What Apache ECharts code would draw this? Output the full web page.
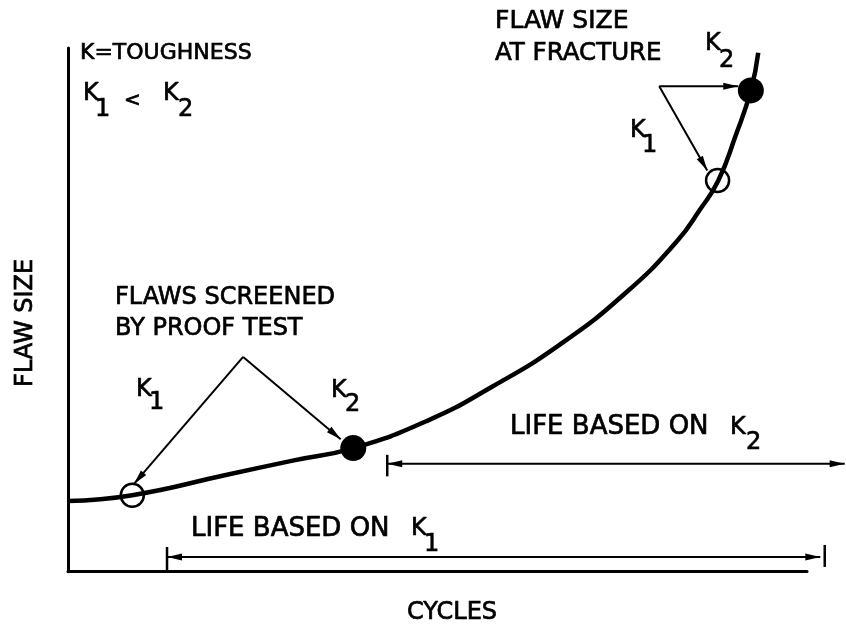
<!DOCTYPE html>
<html>
<head>
<meta charset="utf-8">
<script src="https://cdn.jsdelivr.net/npm/echarts@6/dist/echarts.min.js"></script>
<style>
  html, body { margin: 0; padding: 0; background: #fff; }
  #chart { width: 846px; height: 630px; }
</style>
</head>
<body>
<div id="chart"></div>
<script>
// Crack growth curve: flaw size against load cycles (relative units, 0-100)
const growthCycles = [0, 8.7, 21.5, 30.4, 38.6, 48.6, 57.5, 66.6, 75.6, 82.4, 85.5, 88.0, 90.3, 92.4, 93.4];
const growthSize   = [13.5, 14.6, 18.5, 21.2, 23.6, 28.8, 35.4, 43.4, 53.4, 63.1, 69.1, 74.7, 83.1, 91.9, 99.1];

// Flaw sizes on the curve: open marks for toughness K1, filled marks for K2
const k1Marks = [[8.7, 14.6], [87.9, 74.7]];
const k2Marks = [[38.6, 23.6], [92.4, 91.9]];

// Pointers from the notes to the marks
const proofApex    = [23.7, 41.0];
const proofTips    = [[8.9, 16.7], [36.9, 25.3]];
const fractureApex = [80.0, 92.7];
const fractureTips = [[90.7, 92.7], [86.5, 76.6]];

// Remaining life spans (start cycle, end cycle, drawn level)
const lifeK2Span  = [43.2, 105.1];
const lifeK2Level = 20.6;
const lifeK2Tick  = [18.2, 22.3];
const lifeK1Span  = [13.4, 101.8];
const lifeK1Level = 2.8;
const lifeK1Tick  = [0, 4.7];
const lifeK1End   = 102.4;
const lifeK1EndTick = [0.9, 5.1];

const xName = 'CYCLES';
const yName = 'FLAW SIZE';

const FONT = '"DejaVu Sans", sans-serif';

const curveData = growthCycles.map((c, i) => [c, growthSize[i]]);

// Segment rows: x1, y1, x2, y2, head at start, head at end, line width
const segments = [
  [proofApex[0], proofApex[1], proofTips[0][0], proofTips[0][1], 0, 1, 2],
  [proofApex[0], proofApex[1], proofTips[1][0], proofTips[1][1], 0, 1, 2],
  [fractureApex[0], fractureApex[1], fractureTips[0][0], fractureTips[0][1], 0, 1, 2],
  [fractureApex[0], fractureApex[1], fractureTips[1][0], fractureTips[1][1], 0, 1, 2],
  [lifeK2Span[0], lifeK2Level, lifeK2Span[1], lifeK2Level, 1, 1, 2],
  [lifeK1Span[0], lifeK1Level, lifeK1Span[1], lifeK1Level, 1, 1, 2],
  [lifeK2Span[0], lifeK2Tick[0], lifeK2Span[0], lifeK2Tick[1], 0, 0, 2.5],
  [lifeK1Span[0], lifeK1Tick[0], lifeK1Span[0], lifeK1Tick[1], 0, 0, 2.5],
  [lifeK1End, lifeK1EndTick[0], lifeK1End, lifeK1EndTick[1], 0, 0, 2.5]
];

function arrowHead(tip, from) {
  const dx = tip[0] - from[0], dy = tip[1] - from[1];
  const len = Math.hypot(dx, dy) || 1;
  const ux = dx / len, uy = dy / len;
  const headLen = 15, halfW = 3.5;
  const bx = tip[0] - ux * headLen, by = tip[1] - uy * headLen;
  return {
    type: 'polygon',
    shape: { points: [[tip[0], tip[1]], [bx - uy * halfW, by + ux * halfW], [bx + uy * halfW, by - ux * halfW]] },
    style: { fill: '#000' }
  };
}

function renderSegment(params, api) {
  const a = api.coord([api.value(0), api.value(1)]);
  const b = api.coord([api.value(2), api.value(3)]);
  const children = [{
    type: 'line',
    shape: { x1: a[0], y1: a[1], x2: b[0], y2: b[1] },
    style: { stroke: '#000', lineWidth: api.value(6) }
  }];
  if (api.value(4)) children.push(arrowHead(a, b));
  if (api.value(5)) children.push(arrowHead(b, a));
  return { type: 'group', children: children };
}

function txt(text, x, y, size) {
  return {
    type: 'text', x: x, y: y, z: 10,
    style: {
      text: text, fill: '#000', stroke: '#000', lineWidth: 0.7,
      fontFamily: FONT, fontSize: size || 24, verticalAlign: 'middle'
    }
  };
}
function kSub(x, y, sub, dx, dy) {
  return [txt('K', x, y), txt(sub, x + (dx || 14), y + (dy || 16))];
}

const chart = echarts.init(document.getElementById('chart'), null, { renderer: 'canvas' });

const axisCommon = {
  type: 'value', min: 0, max: 100,
  nameLocation: 'middle',
  axisLine: { onZero: false, lineStyle: { color: '#000', width: 3 } },
  axisTick: { show: false },
  axisLabel: { show: false },
  splitLine: { show: false }
};
const nameStyle = {
  color: '#000', fontFamily: FONT, fontSize: 24,
  textBorderColor: '#000', textBorderWidth: 0.7
};

const option = {
  backgroundColor: '#fff',
  animation: false,
  grid: { left: 68, right: 39, top: 48, bottom: 48 },
  xAxis: Object.assign({}, axisCommon, {
    name: xName, nameGap: 29,
    nameTextStyle: Object.assign({ padding: [0, 0, 0, 29] }, nameStyle)
  }),
  yAxis: Object.assign({}, axisCommon, {
    name: yName, nameGap: 30, nameRotate: 90,
    nameTextStyle: Object.assign({ padding: [0, 26, 0, 0] }, nameStyle)
  }),
  series: [
    {
      type: 'line', data: curveData, smooth: 0.5,
      symbol: 'none', clip: false,
      lineStyle: { color: '#000', width: 4.5 }, z: 3
    },
    {
      type: 'scatter', data: k1Marks, symbol: 'circle', symbolSize: 23,
      itemStyle: { color: 'rgba(0,0,0,0)', borderColor: '#000', borderWidth: 2.5, opacity: 1 }, z: 5
    },
    {
      type: 'scatter', data: k2Marks, symbol: 'circle', symbolSize: 26,
      itemStyle: { color: '#000', opacity: 1 }, z: 5
    },
    {
      type: 'custom', data: segments, renderItem: renderSegment, clip: false,
      encode: { x: [0, 2], y: [1, 3] }, silent: true, z: 4
    }
  ],
  graphic: [].concat(
    [txt('K=TOUGHNESS', 80, 53, 22)],
    kSub(83, 94, '1', 12, 16),
    [txt('<', 124, 101, 20)],
    kSub(163, 94, '2', 15, 16),
    [txt('FLAW SIZE', 495, 21.5, 25), txt('AT FRACTURE', 495, 54, 24.5)],
    kSub(705, 44, '2', 14, 17),
    kSub(630, 131, '1', 12, 15),
    [txt('FLAWS SCREENED', 115, 297.5, 24), txt('BY PROOF TEST', 115, 329, 24)],
    kSub(136, 390, '1', 13, 13),
    kSub(331, 391, '2', 14, 14),
    [txt('LIFE BASED ON', 510, 427.5, 26)],
    kSub(730, 427.5, '2', 16, 15),
    [txt('LIFE BASED ON', 191, 529, 26)],
    kSub(411, 529, '1', 13, 16)
  )
};

chart.setOption(option);
</script>
</body>
</html>
